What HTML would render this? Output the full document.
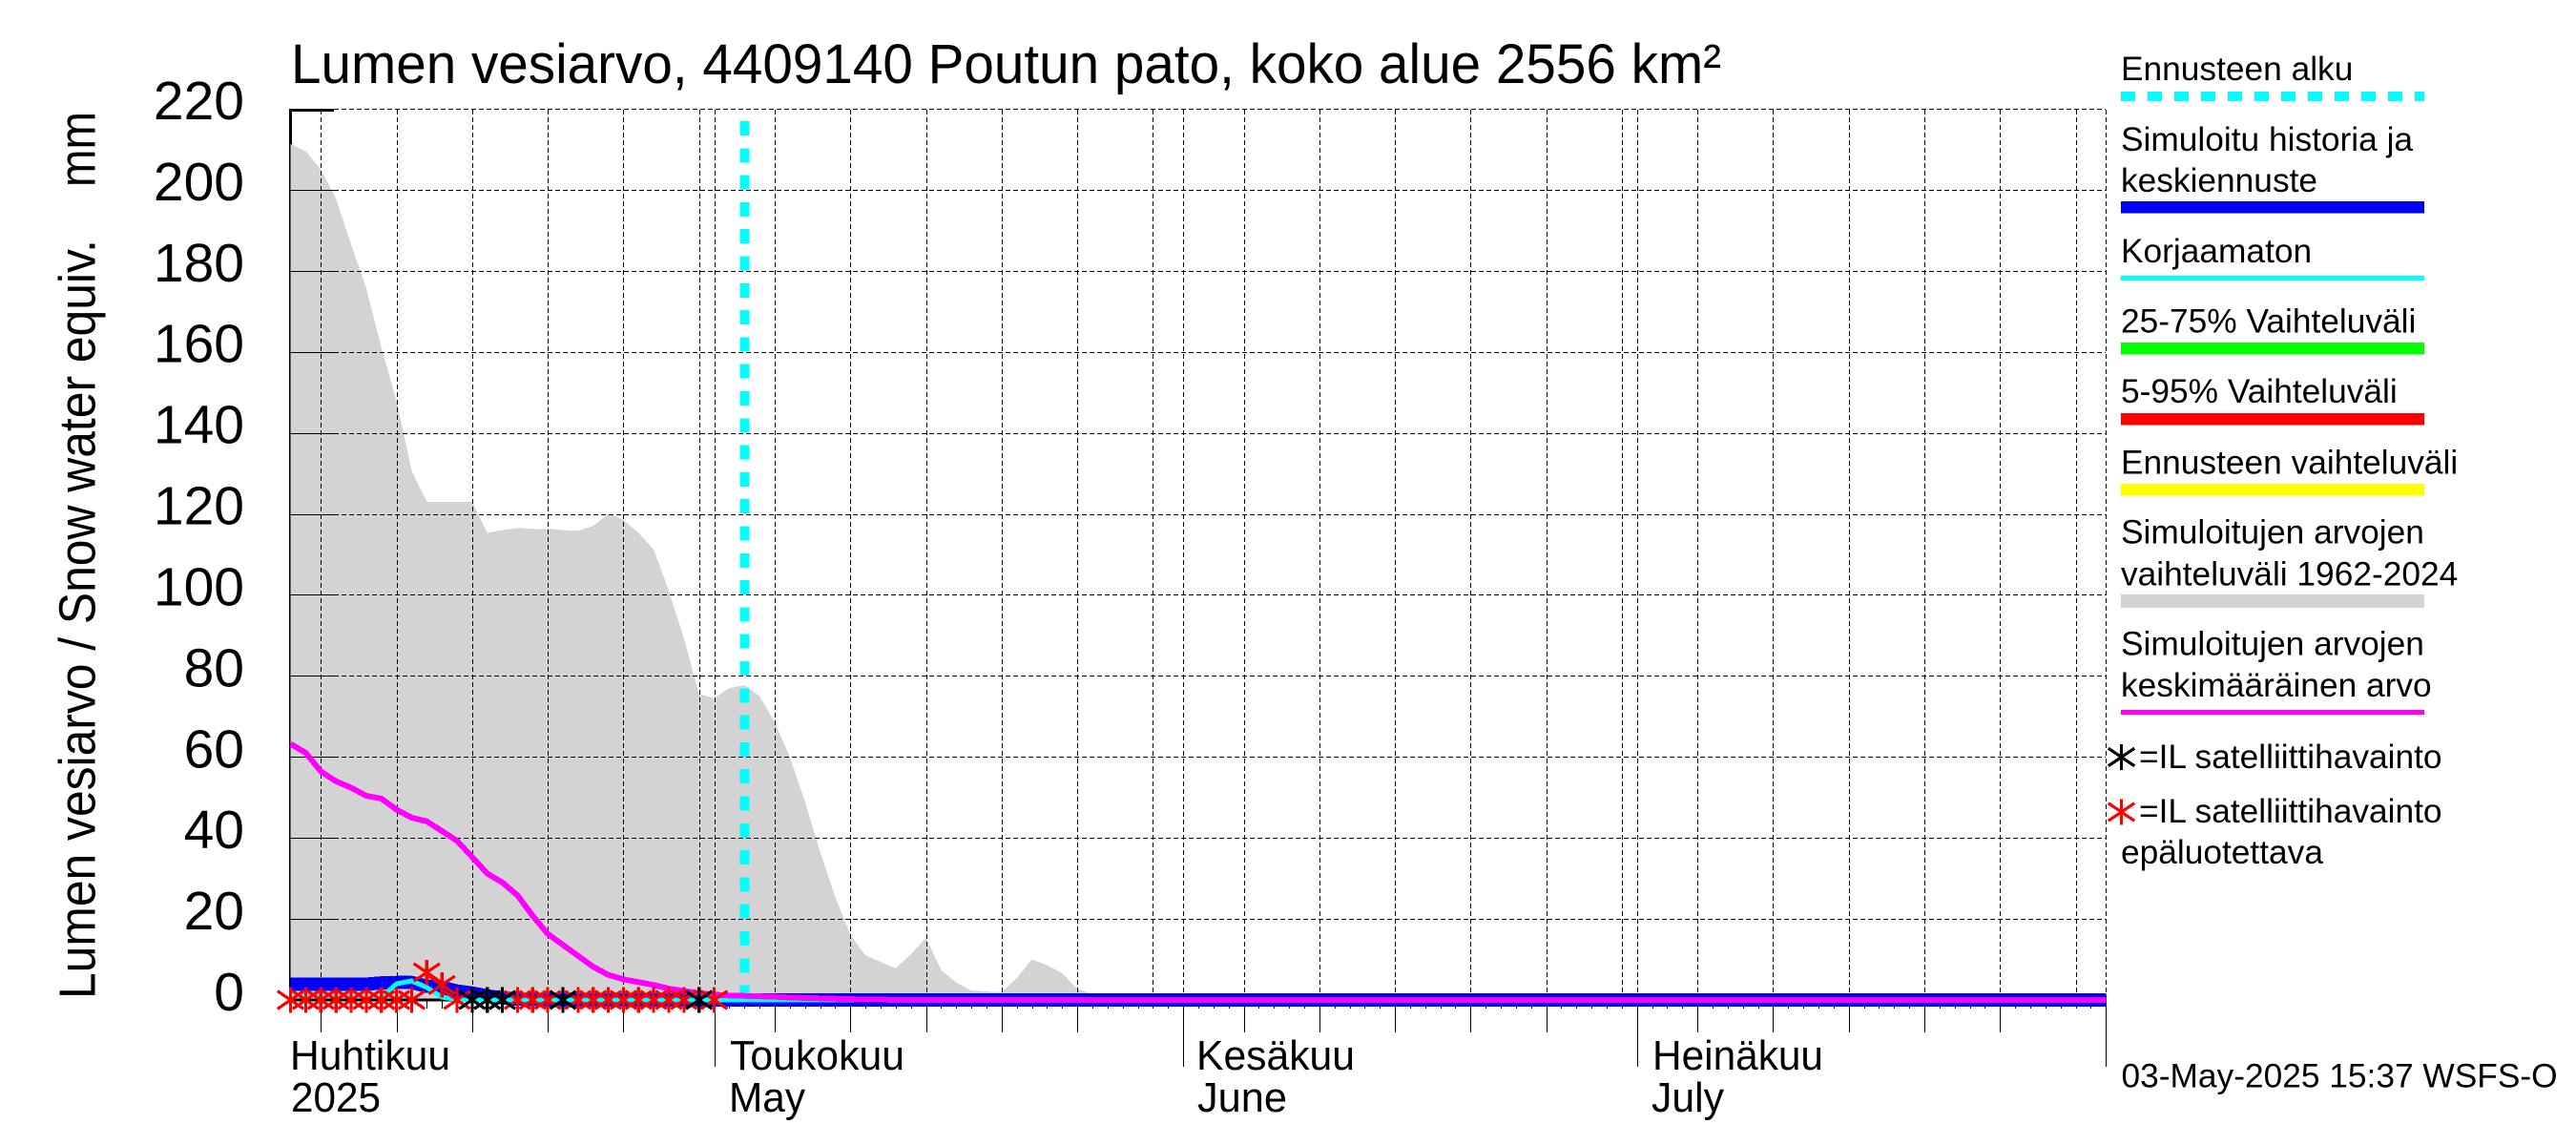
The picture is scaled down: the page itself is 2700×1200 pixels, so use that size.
<!DOCTYPE html>
<html lang="fi">
<head>
<meta charset="utf-8">
<title>Lumen vesiarvo, 4409140 Poutun pato</title>
<style>
html,body{margin:0;padding:0;background:#fff;}
#chart{display:block;width:2700px;height:1200px;background:#fff;font-family:"Liberation Sans",Arial,sans-serif;}
#chart text{fill:#000;}
.main{font-size:57px;}
.axis-date{font-size:44px;}
.leg{font-size:35.3px;}
</style>
</head>
<body>
<svg id="chart" xmlns="http://www.w3.org/2000/svg" width="2700" height="1200" viewBox="0 0 2700 1200">
  <rect x="0" y="0" width="2700" height="1200" fill="#fff"/>
  <text x="305" y="87" font-size="58" textLength="1499" lengthAdjust="spacingAndGlyphs">Lumen vesiarvo, 4409140 Poutun pato, koko alue 2556 km²</text>
  <g transform="translate(99.5,1047) rotate(-90)">
    <text x="0" y="0" font-size="54" textLength="796" lengthAdjust="spacingAndGlyphs">Lumen vesiarvo / Snow water equiv.</text>
    <text x="851" y="0" font-size="54" textLength="79" lengthAdjust="spacingAndGlyphs">mm</text>
  </g>
  <g id="y-labels"></g>
  <g id="plot"></g>

  <text class="axis-date" x="304" y="1121" textLength="168" lengthAdjust="spacingAndGlyphs">Huhtikuu</text>
  <text class="axis-date" x="305" y="1165" textLength="94" lengthAdjust="spacingAndGlyphs">2025</text>
  <text class="axis-date" x="765" y="1121" textLength="183" lengthAdjust="spacingAndGlyphs">Toukokuu</text>
  <text class="axis-date" x="764" y="1165" textLength="80" lengthAdjust="spacingAndGlyphs">May</text>
  <text class="axis-date" x="1254" y="1121" textLength="166" lengthAdjust="spacingAndGlyphs">Kesäkuu</text>
  <text class="axis-date" x="1255" y="1165" textLength="94" lengthAdjust="spacingAndGlyphs">June</text>
  <text class="axis-date" x="1732" y="1121" textLength="179" lengthAdjust="spacingAndGlyphs">Heinäkuu</text>
  <text class="axis-date" x="1731" y="1165" textLength="76" lengthAdjust="spacingAndGlyphs">July</text>

  <g shape-rendering="crispEdges">
    <text class="leg" x="2223" y="84">Ennusteen alku</text>
    <line x1="2223" x2="2541" y1="101" y2="101" stroke="#00ffff" stroke-width="10" stroke-dasharray="15 13"/>
    <text class="leg" x="2223" y="158">Simuloitu historia ja</text>
    <text class="leg" x="2223" y="201">keskiennuste</text>
    <rect x="2223" y="211" width="318" height="12.5" fill="#0000ff"/>
    <text class="leg" x="2223" y="275">Korjaamaton</text>
    <rect x="2223" y="289" width="318" height="5" fill="#00ffff"/>
    <text class="leg" x="2223" y="348.5">25-75% Vaihteluväli</text>
    <rect x="2223" y="359" width="318" height="12.5" fill="#00ff00"/>
    <text class="leg" x="2223" y="422">5-95% Vaihteluväli</text>
    <rect x="2223" y="433" width="318" height="12.5" fill="#ff0000"/>
    <text class="leg" x="2223" y="496.5">Ennusteen vaihteluväli</text>
    <rect x="2223" y="507" width="318" height="12.5" fill="#ffff00"/>
    <text class="leg" x="2223" y="569.5">Simuloitujen arvojen</text>
    <text class="leg" x="2223" y="613.5">vaihteluväli 1962-2024</text>
    <rect x="2223" y="623" width="318" height="14" fill="#d3d3d3"/>
    <text class="leg" x="2223" y="686.5">Simuloitujen arvojen</text>
    <text class="leg" x="2223" y="730">keskimääräinen arvo</text>
    <rect x="2223" y="744" width="318" height="5" fill="#ff00ff"/>
    <g id="legend-stars"></g>
    <text class="leg" x="2242" y="805">=IL satelliittihavainto</text>
    <text class="leg" x="2242" y="862">=IL satelliittihavainto</text>
    <text class="leg" x="2223" y="905">epäluotettava</text>
  </g>
  <text class="leg" x="2223.5" y="1139.5">03-May-2025 15:37 WSFS-O</text>
</svg>
<script>
// Series values: one entry per day, starting 3 April 2025 (day 0), 121 entries each
const simulatedMax = [
  211.3,209.5,205,197.8,186.5,175.7,161,148,130.6,123,
  123,123,123,115.3,116,116.5,116.3,116.3,116,115.8,
  117,120,118.5,115.3,111.2,101,89.3,75.5,74.5,77,
  77.7,75,68.6,60,49,36.6,25.5,16,11,9.4,
  7.8,11.3,15.3,7.4,4.3,2.3,2.1,1.9,5.4,10,
  8.6,6.6,2.7,1.5,0.5,0,0,0,0,0,
  0,0,0,0,0,0,0,0,0,0,
  0,0,0,0,0,0,0,0,0,0,
  0,0,0,0,0,0,0,0,0,0,
  0,0,0,0,0,0,0,0,0,0,
  0,0,0,0,0,0,0,0,0,0,
  0,0,0,0,0,0,0,0,0,0,
  0
];
const simulatedMean = [
  63.2,61,56.4,54,52.4,50.4,49.7,47,45,44.1,
  41.7,39.3,35.3,31.2,29,25.8,20.8,16.3,13.6,10.9,
  8.2,6.2,5.1,4.4,3.7,2.8,2.2,1.7,1.3,1.1,
  1,0.9,0.8,0.6,0.5,0.4,0.3,0.2,0.1,0.1,
  0,0,0,0,0,0,0,0,0,0,
  0,0,0,0,0,0,0,0,0,0,
  0,0,0,0,0,0,0,0,0,0,
  0,0,0,0,0,0,0,0,0,0,
  0,0,0,0,0,0,0,0,0,0,
  0,0,0,0,0,0,0,0,0,0,
  0,0,0,0,0,0,0,0,0,0,
  0,0,0,0,0,0,0,0,0,0,
  0
];
const historyMedian = [
  3.9,3.9,3.9,3.9,3.9,3.9,4.2,4.3,4.3,3.4,
  3.1,2.2,1.7,1,0.5,0.2,0.1,0,0,0,
  0,0,0,0,0,0,0,0,0,0,
  0,0,0,0,0,0,0,0,0,0,
  0,0,0,0,0,0,0,0,0,0,
  0,0,0,0,0,0,0,0,0,0,
  0,0,0,0,0,0,0,0,0,0,
  0,0,0,0,0,0,0,0,0,0,
  0,0,0,0,0,0,0,0,0,0,
  0,0,0,0,0,0,0,0,0,0,
  0,0,0,0,0,0,0,0,0,0,
  0,0,0,0,0,0,0,0,0,0,
  0
];
const uncorrected = [
  null,null,null,null,null,null,0.6,4,4.7,3.1,
  0.7,0.1,0,0,0,0,0,0,0,0,
  0,0,0,0,0,0,0,0,0,0,
  0,0,0,0,0,0,0,0,0,0,
  0,0,0,0,0,0,0,0,0,0,
  0,0,0,0,0,0,0,0,0,0,
  0,0,0,0,0,0,0,0,0,0,
  0,0,0,0,0,0,0,0,0,0,
  0,0,0,0,0,0,0,0,0,0,
  0,0,0,0,0,0,0,0,0,0,
  0,0,0,0,0,0,0,0,0,0,
  0,0,0,0,0,0,0,0,0,0,
  0
];
// Satellite observations
const satelliteDays = [12,13,14,18,27];
const satelliteValues = [0,0,0,0,0];
const unreliableDays = [0,1,2,3,4,5,6,7,8,9,10,11,15,16,17,19,20,21,22,23,24,25,26,28];
const unreliableValues = [0,0,0,0,0,0,0,0,0,6.8,3.7,0,0,0,0,0,0,0,0,0,0,0,0,0];
// Forecast start day
const forecastStartDay = [30];
// Axis ticks
const yTickLabels = [0,20,40,60,80,100,120,140,160,180,200,220];
const monthTickDays = [28,59,89,120];
const fiveDayTickDays = [2,7,12,17,22,32,37,42,47,52,63,68,73,78,83,93,98,103,108,113];
const gridOnlyDays = [27,57,88,118];
const domainDays = [0,120];
const domainValues = [0,220];

const SVGNS = 'http://www.w3.org/2000/svg';
const plot = document.getElementById('plot');
function xScale(d){ return 304.6 + (d - domainDays[0]) * (2207.3 - 304.6) / (domainDays[1] - domainDays[0]); }
function yScale(v){ return 1048 - (v - domainValues[0]) * (1048 - 114) / (domainValues[1] - domainValues[0]); }
function crisp(v){ return Math.round(v) + 0.5; }
function make(tag, attrs, parent){
  const el = document.createElementNS(SVGNS, tag);
  for (const k in attrs) el.setAttribute(k, attrs[k]);
  (parent || plot).appendChild(el);
  return el;
}
function linePath(values){
  let d = '';
  let pen = false;
  values.forEach(function(v, i){
    if (v === null) { pen = false; return; }
    d += (pen ? 'L' : 'M') + xScale(i).toFixed(2) + ' ' + yScale(v).toFixed(2);
    pen = true;
  });
  return d;
}
function drawStar(parent, cx, cy, color, name){
  const g = make('g', {stroke: color, 'stroke-width': 3.2, 'stroke-linecap': 'butt'}, parent);
  
  
  make('line', {x1: cx, x2: cx, y1: cy - 13.3, y2: cy + 13.3}, g);
  make('line', {x1: cx - 13.7, x2: cx + 13.7, y1: cy - 9.3, y2: cy + 9.3}, g);
  make('line', {x1: cx - 13.7, x2: cx + 13.7, y1: cy + 9.3, y2: cy - 9.3}, g);
}

// Thick top-left corner and left axis, beneath the grey area
const axisLeft = make('rect', {x: 303, y: 114, width: 3, height: 934, fill: '#000'});


const axisTop = make('rect', {x: 303, y: 114, width: 47, height: 3, fill: '#000'});



// Grey simulated range
let areaPts = xScale(0).toFixed(2) + ',' + yScale(0).toFixed(2);
simulatedMax.forEach(function(v, i){
  areaPts += ' ' + xScale(i).toFixed(2) + ',' + yScale(v).toFixed(2);
});
areaPts += ' ' + xScale(simulatedMax.length - 1).toFixed(2) + ',' + yScale(0).toFixed(2);
const area = make('polygon', {points: areaPts, fill: '#d3d3d3', 'shape-rendering': 'crispEdges'});



// Grid and ticks
const gridGroup = make('g', {stroke: '#000', 'stroke-width': 1, 'shape-rendering': 'crispEdges', fill: 'none'});


yTickLabels.forEach(function(v){
  if (v === 0) return;
  const y = crisp(yScale(v));
  if (v !== 220) {
    const tick = make('line', {x1: 304, x2: 350, y1: y, y2: y}, gridGroup);
    
    
  }
  const grid = make('line', {x1: 350, x2: 2207, y1: y, y2: y, 'stroke-dasharray': '5 3'}, gridGroup);
  
  
});
monthTickDays.concat(fiveDayTickDays, gridOnlyDays).forEach(function(d){
  const x = crisp(xScale(d));
  const grid = make('line', {x1: x, x2: x, y1: 115, y2: 1048, 'stroke-dasharray': '5 3'}, gridGroup);
  
  
});
for (let d = domainDays[0]; d <= domainDays[1]; d++) {
  const x = crisp(xScale(d));
  const minor = make('line', {x1: x, x2: x, y1: 1048, y2: 1057}, gridGroup);
  
  
}
fiveDayTickDays.forEach(function(d){
  const x = crisp(xScale(d));
  const tick = make('line', {x1: x, x2: x, y1: 1048, y2: 1082}, gridGroup);
  
  
});
monthTickDays.forEach(function(d){
  const x = crisp(xScale(d));
  const tick = make('line', {x1: x, x2: x, y1: 1048, y2: 1118}, gridGroup);
  
  
});

// Baseline
const baseline = make('line', {x1: 304, x2: 2207, y1: yScale(0), y2: yScale(0), stroke: '#000', 'stroke-width': 3, 'shape-rendering': 'crispEdges'});



// Forecast start marker
const fx = xScale(forecastStartDay[0]);
const forecast = make('line', {x1: fx, x2: fx, y1: 127, y2: 1048, stroke: '#00ffff', 'stroke-width': 10, 'stroke-dasharray': '15 13.3', 'shape-rendering': 'crispEdges'});



// Series lines
const historyLine = make('path', {d: linePath(historyMedian), fill: 'none', stroke: '#0000ff', 'stroke-width': 14, 'stroke-linejoin': 'round', 'shape-rendering': 'crispEdges'});


const uncorrectedLine = make('path', {d: linePath(uncorrected), fill: 'none', stroke: '#00ffff', 'stroke-width': 5, 'stroke-linejoin': 'round', 'shape-rendering': 'crispEdges'});


const meanLine = make('path', {d: linePath(simulatedMean), fill: 'none', stroke: '#ff00ff', 'stroke-width': 6, 'stroke-linejoin': 'round', 'shape-rendering': 'crispEdges'});



// Satellite markers
const starGroup = make('g', {'shape-rendering': 'crispEdges'});


unreliableDays.forEach(function(d, i){
  drawStar(starGroup, xScale(d), yScale(unreliableValues[i]), '#ff0000', 'satellite-unreliable-marker');
});
satelliteDays.forEach(function(d, i){
  drawStar(starGroup, xScale(d), yScale(satelliteValues[i]), '#000000', 'satellite-marker');
});

// Y tick labels
const yLabels = document.getElementById('y-labels');
yTickLabels.forEach(function(v){
  const t = make('text', {x: 256, y: yScale(v) + 11, 'text-anchor': 'end', 'class': 'main'}, yLabels);
  
  
  t.textContent = String(v);
});

// Legend markers
const legendStars = document.getElementById('legend-stars');
drawStar(legendStars, 2223.5, 793.5, '#000000', 'legend-satellite-marker');
drawStar(legendStars, 2223.5, 851, '#ff0000', 'legend-satellite-unreliable-marker');
</script>
</body>
</html>
